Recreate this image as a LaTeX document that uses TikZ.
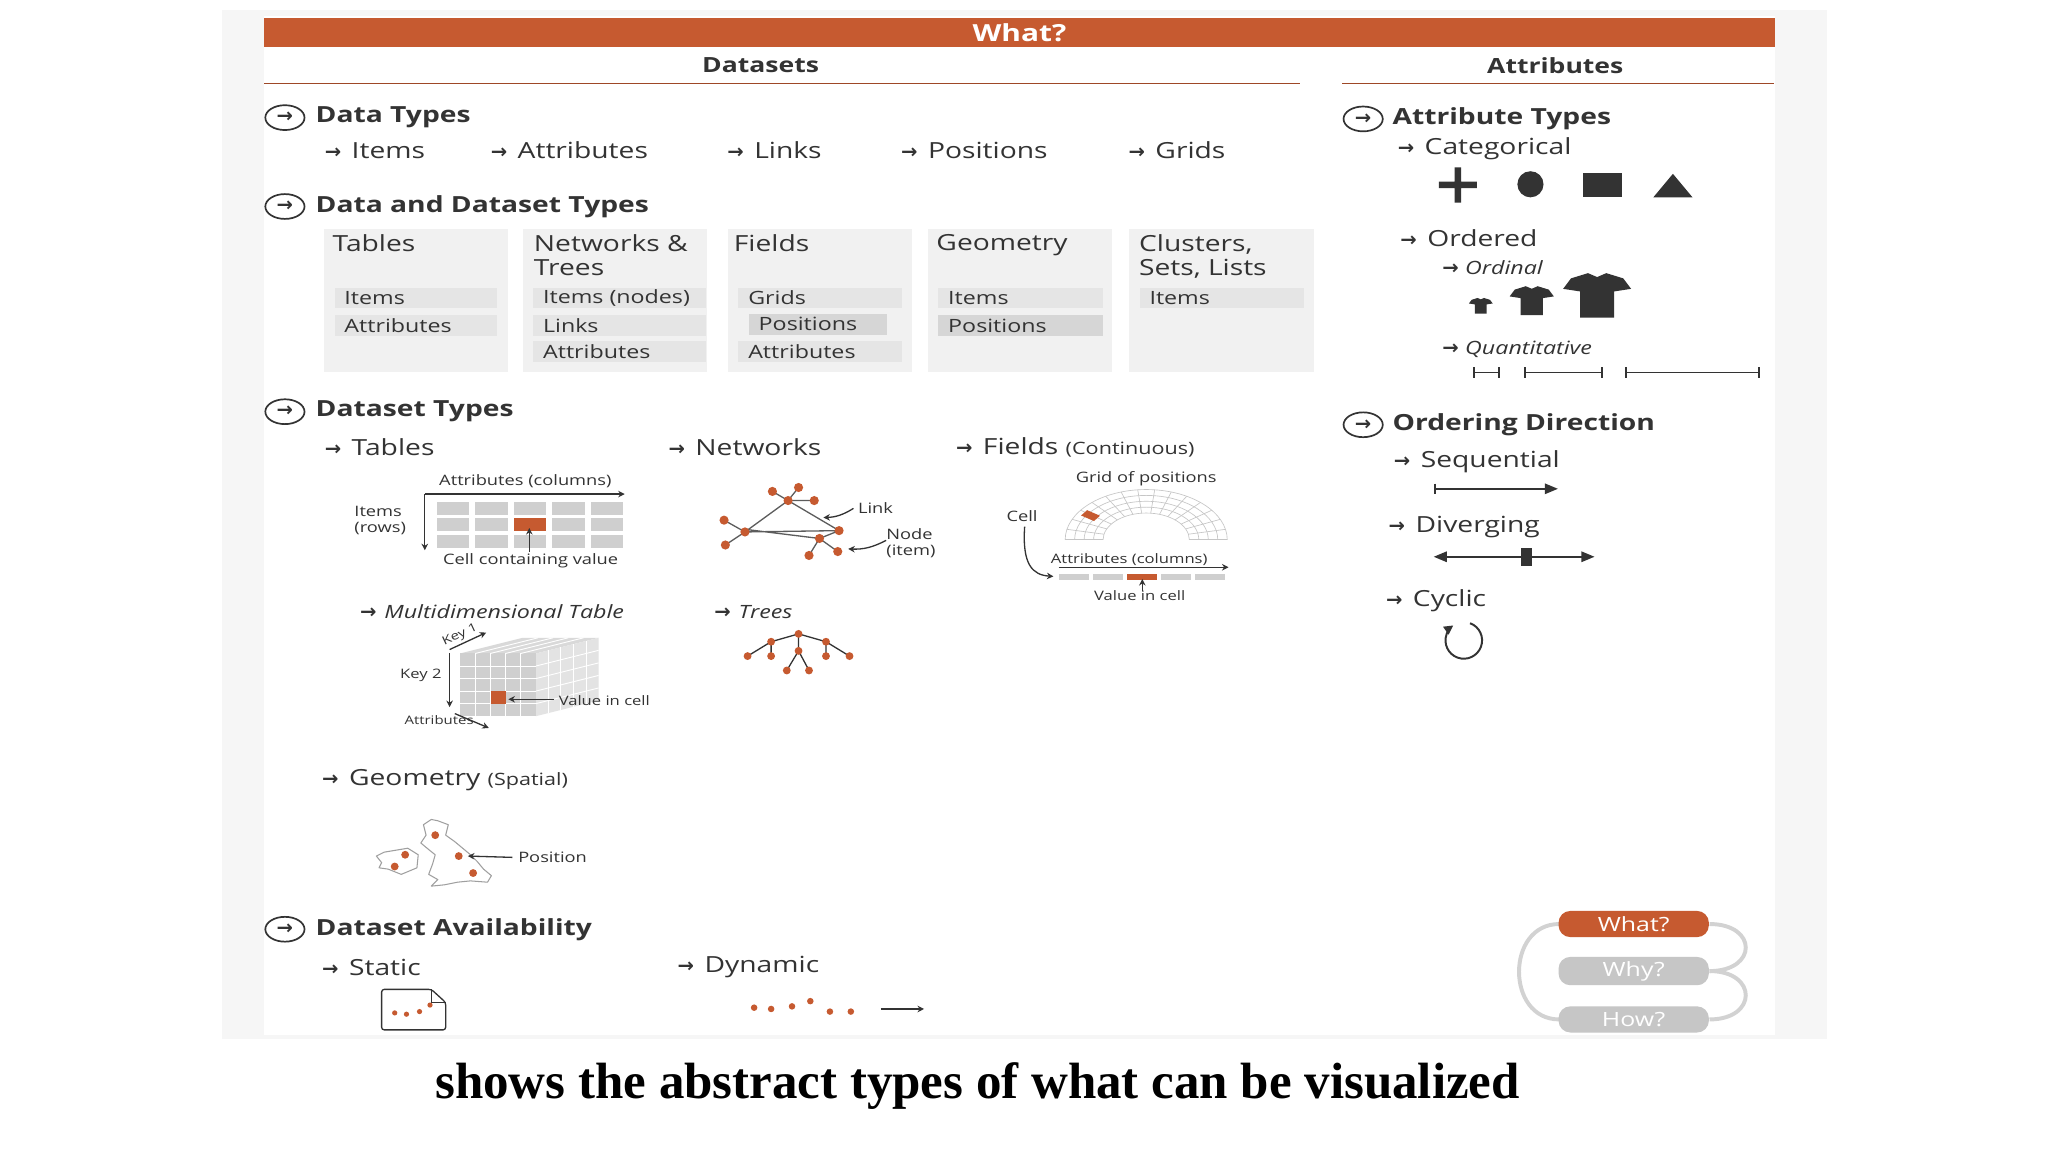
\documentclass[tikz,border=0pt]{standalone}
\usepackage{fontspec}
\setmainfont{Open Sans}[FakeStretch=1.27]
\newfontfamily\sym{DejaVu Sans}
\newfontfamily\capfont{Liberation Serif}
\usetikzlibrary{shapes.geometric,arrows.meta}
\definecolor{org}{HTML}{C65A30}
\definecolor{txt}{HTML}{333333}
\definecolor{boxbg}{HTML}{F1F1F1}
\definecolor{bar}{HTML}{E5E5E5}
\definecolor{bardk}{HTML}{D6D6D6}
\definecolor{cellg}{HTML}{CFCFCF}
\newcommand\fs[1]{\fontsize{#1}{#1}\selectfont}
\newcommand\ar{{\sym\bfseries\fontsize{15}{15}\selectfont →}}
\tikzset{
 h1/.style={anchor=west,text=txt,font=\fs{17}\bfseries},
 h2/.style={anchor=west,text=txt,font=\fs{17}},
 h3/.style={anchor=west,text=txt,font=\fs{14}\itshape},
 hicon/.style={ellipse,draw=txt,line width=1.3pt,minimum width=30pt,minimum height=19pt,inner sep=0pt,font=\fs{14},text=txt},
 btitle/.style={anchor=north west,text=txt,font=\fs{17},align=left},
 bitem/.style={anchor=west,text=txt,font=\fs{14}},
 lbl/.style={text=txt,font=\fs{11},align=center},
 tip/.style={-{Stealth[length=5pt,width=5pt]},txt,line width=1pt},
 dot/.style={circle,fill=org,inner sep=0pt,minimum size=7pt},
 pill/.style={rounded corners=9pt,minimum width=115pt,minimum height=20pt,font=\fs{15},text=white},
 shirt/.pic={\fill[txt,yscale=-1] (-1,0.8)--(-0.35,1)--(0,0.85)--(0.35,1)--(1,0.8)--(1.3,0.4)--(0.65,0.3)--(0.65,-0.7)--(-0.65,-0.7)--(-0.65,0.3)--(-1.3,0.4)--cycle;}
}
\begin{document}
\begin{tikzpicture}[x=1pt,y=-1pt]
\useasboundingbox (0,0) rectangle (1567,881);
\fill[white] (0,0) rectangle (1567,881);
\fill[gray!7] (170,8) rectangle (1398,795);
\fill[white] (202,12) rectangle (1358,792);
% title
\fill[org] (202,14) rectangle (1358,36);
\node[text=white,font=\fs{18}\bfseries] (what) at (780,25) {What?};
\node[text=txt,font=\fs{16}\bfseries] (ds) at (582,50) {Datasets};
\node[text=txt,font=\fs{16}\bfseries] (at) at (1190,50) {Attributes};
\draw[org!80!black,line width=1pt] (202,64)--(995,64) (1027,64)--(1357,64);
% Data types
\node[hicon] (i1) at (218,90) {\ar};
\node[h1] (dt) at (238,90) {Data Types};
\foreach \x/\t in {245/Items,372/Attributes,553/Links,686/Positions,860/Grids}
  \node[h2] at (\x,115) {\ar\hspace{8pt}\t};
% Data and dataset types
\node[hicon] (i2) at (218,158) {\ar};
\node[h1] (ddt) at (238,158) {Data and Dataset Types};
\foreach \x in {248,400,557,710,864} \fill[boxbg] (\x,175) rectangle ++(141,110);
\node[btitle] at (251,176) {Tables};
\node[btitle] at (405,176) {Networks \&\\[1pt]Trees};
\node[btitle] at (558,176) {Fields};
\node[btitle] at (713,176) {Geometry};
\node[btitle] at (868,176) {Clusters,\\[1pt]Sets, Lists};
\newcommand\bi[5]{\fill[#5] (#1,#2-8) rectangle (#1+#3,#2+8); \node[bitem] at (#1+4,#2) {#4};}
\bi{256}{228}{124}{Items}{bar}
\bi{256}{249}{124}{Attributes}{bar}
\bi{408}{228}{132}{Items (nodes)}{bar}
\bi{408}{249}{132}{Links}{bar}
\bi{408}{269}{132}{Attributes}{bar}
\bi{565}{228}{125}{Grids}{bar}
\bi{573}{248}{106}{Positions}{bardk}
\bi{565}{269}{125}{Attributes}{bar}
\bi{718}{228}{126}{Items}{bar}
\bi{718}{249}{126}{Positions}{bardk}
\bi{872}{228}{126}{Items}{bar}
% Dataset types
\node[hicon] (i3) at (218,315) {\ar};
\node[h1] (dst) at (238,315) {Dataset Types};
\node[h2] at (245,342) {\ar\hspace{8pt}Tables};
\node[h2] at (508,342) {\ar\hspace{8pt}Networks};
\node[h2] at (728,342) {\ar\hspace{8pt}Fields {\fs{13}(Continuous)}};
% table figure
\foreach \c in {0,...,4} \foreach \r in {0,...,2}
  \fill[cellg] (334+\c*29.5,384+\r*12.5) rectangle ++(25,10);
\fill[org] (393,396.5) rectangle ++(25,10);
\draw[tip] (325,378)--(478,378);
\draw[tip] (325,378)--(325,421);
\node[lbl] at (402,368) {Attributes (columns)};
\node[lbl,anchor=west,inner sep=0pt] (ir1) at (271,391) {Items};
\node[lbl,anchor=west,inner sep=0pt] (ir2) at (271,404) {(rows)};
\draw[tip] (405,422)--(405,404);
\node[lbl] at (406,429) {Cell containing value};
% network
\foreach \n/\p in {t/{603,383},a/{591,376},b/{611,373},c/{623,383},l/{570,407},d/{554,398},e/{555,417},r/{642,406},m/{627,412},f/{619,425},g/{641,422}}
  \coordinate (n\n) at (\p);
\draw[txt!80,line width=1pt] (nt)--(na) (nt)--(nb) (nt)--(nc) (nt)--(nl) (nt)--(nr) (nl)--(nd) (nl)--(ne) (nl)--(nr) ([yshift=2pt]nl)--(nm) (nm)--(nr) (nm)--(nf) (nm)--(ng);
\foreach \n in {t,a,b,c,l,d,e,r,m,f,g} \node[dot] at (n\n) {};
\node[lbl,anchor=west] (lk) at (653,389) {Link};
\draw[tip] (lk.west) to[bend left=15] (630,396);
\node[lbl,anchor=west,inner sep=0pt] (nd) at (678,409) {Node};
\node[lbl,anchor=west,inner sep=0pt] (nd2) at (678,422) {(item)};
\draw[tip] (nd.south west) to[bend left=15] (649,420);
% fields
\node[lbl] at (877,366) {Grid of positions};
\begin{scope}[gray!45,line width=0.5pt,shift={(877,413)},yscale=0.62]
\foreach \r in {33,40.25,47.5,54.75,62} \draw (\r,0) arc[start angle=0,end angle=-180,radius=\r];
\foreach \a in {0,12,...,180} \draw (-\a:33) -- (-\a:62);
\fill[org,rotate=-35] (-58,-4) rectangle (-46,4);
\end{scope}
\node[lbl] (cl) at (782,395) {Cell};
\draw[tip] (784,403) .. controls (782,432) and (790,440) .. (806,441);
\node[lbl,font=\fs{10}] at (864,428) {Attributes (columns)};
\draw[tip] (810,434)--(940,434);
\foreach \c in {0,...,4} \fill[cellg] (810+\c*26,439) rectangle ++(23,5);
\fill[org] (862,439) rectangle ++(23,5);
\draw[tip] (874,452)--(874,443);
\node[lbl,font=\fs{10}] at (872,456) {Value in cell};
% multidim
\node[h3] at (272,468) {{\upshape\ar}\hspace{6pt}Multidimensional Table};
\fill[gray!30] (352,500)--(400,488)--(458,488)--(410,500)--cycle;
\fill[gray!22] (410,500)--(458,488)--(458,536)--(410,548)--cycle;
\fill[gray!38] (352,500) rectangle (410,548);
\begin{scope}[white,line width=0.7pt]
\foreach \i in {1,...,4} {\draw (352+\i*11.6,500)--(352+\i*11.6,548); \draw (352,500+\i*9.6)--(410,500+\i*9.6);
 \draw (410+\i*9.6,500-\i*2.4)--(410+\i*9.6,548-\i*2.4); \draw (410,500+\i*9.6)--(458,488+\i*9.6);
 \draw (352+\i*11.6,500)--(400+\i*11.6,488);}
\end{scope}
\fill[org] (376,529) rectangle (387,539);
\draw[tip] (344,497)--(372,484);
\node[lbl,font=\fs{9},rotate=25,inner sep=0pt] at (352,486) {Key 1};
\draw[tip] (344,500)--(344,541);
\node[lbl,font=\fs{10}] at (322,517) {Key 2};
\draw[tip] (348,546)--(374,557);
\node[lbl,font=\fs{9}] at (336,551) {Attributes};
\draw[tip] (424,535)--(389,535);
\node[lbl,font=\fs{10},anchor=west] at (424,536) {Value in cell};
% trees
\node[h3] at (543,468) {{\upshape\ar}\hspace{6pt}Trees};
\foreach \n/\p in {r/{611,485},a/{590,491},b/{611,498},c/{632,491},d/{572,502},e/{590,502},f/{602,513},g/{619,513},h/{632,502},i/{650,502}}
  \coordinate (t\n) at (\p);
\draw[txt,line width=1pt] (tr)--(ta) (tr)--(tb) (tr)--(tc) (ta)--(td) (ta)--(te) (tb)--(tf) (tb)--(tg) (tc)--(th) (tc)--(ti);
\foreach \n in {r,a,b,c,d,e,f,g,h,i} \node[dot,minimum size=6pt] at (t\n) {};
% geometry
\node[h2] at (243,597) {\ar\hspace{8pt}Geometry {\fs{13}(Spatial)}};
\draw[gray!75,fill=white,line width=0.8pt,line join=round] (324,631)--(330,627)--(335,628)--(343,631)--(341,639)--(348,644)--(354,649)--(360,654)--(365,659)--(370,665)--(376,670)--(373,675)--(360,674)--(350,675)--(340,677)--(330,678)--(335,673)--(328,669)--(331,661)--(333,654)--(328,650)--(322,645)--(326,639)--cycle;
\draw[gray!75,fill=white,line width=0.8pt,line join=round] (288,655)--(294,652)--(300,651)--(312,649)--(320,654)--(319,664)--(307,669)--(297,665)--(290,664)--(292,660)--cycle;
\foreach \p in {{333,639},{310,654},{302,663},{351,655},{362,668}} \node[dot,minimum size=6pt] at (\p) {};
\draw[tip] (392,656)--(358,655);
\node[lbl,anchor=west] at (393,656) {Position};
% availability
\node[hicon] (i4) at (218,711) {\ar};
\node[h1] (dav) at (238,711) {Dataset Availability};
\node[h2] at (243,740) {\ar\hspace{8pt}Static};
\node[h2] at (515,740) {\ar\hspace{8pt}Dynamic};
\draw[txt,line width=1pt,rounded corners=2pt] (292,757)--(330,757)--(341,767)--(341,788)--(292,788)--cycle;
\draw[txt,line width=0.8pt] (330,757)--(330,767)--(341,767);
\foreach \p in {{302,775},{311,776},{321,774},{329,769}} \node[dot,minimum size=4pt] at (\p) {};
\foreach \p in {{577,771},{590,772},{606,770},{620,766},{635,774},{651,774}} \node[dot,minimum size=5pt] at (\p) {};
\draw[tip,line width=0.8pt] (674,772)--(707,772);
% attribute types
\node[hicon] (i5) at (1043,91) {\ar};
\node[h1] at (1062,91) {Attribute Types};
\node[h2] at (1066,114) {\ar\hspace{8pt}Categorical};
\fill[txt] (1101,139) rectangle (1130,144) (1113,128) rectangle (1118,155);
\fill[txt] (1171,141) circle (10);
\fill[txt] (1211,132) rectangle (1241,151);
\fill[txt] (1265,151)--(1280,133)--(1295,151)--cycle;
\node[h2] at (1068,182) {\ar\hspace{8pt}Ordered};
\node[h3] at (1100,205) {{\upshape\ar}\hspace{5pt}Ordinal};
\pic[scale=7] at (1133,235) {shirt};
\pic[scale=13] at (1172,232) {shirt};
\pic[scale=20] at (1222,229) {shirt};
\node[h3] at (1100,267) {{\upshape\ar}\hspace{5pt}Quantitative};
\foreach \a/\b in {1128/1147,1167/1226,1244/1346} \draw[txt,line width=1.5pt] (\a,285)--(\b,285) (\a,281)--(\a,289) (\b,281)--(\b,289);
% ordering direction
\node[hicon] (i6) at (1043,325) {\ar};
\node[h1] at (1062,325) {Ordering Direction};
\node[h2] at (1063,353) {\ar\hspace{8pt}Sequential};
\draw[txt,line width=1.2pt,-{Triangle[length=10pt,width=8pt]}] (1098,374)--(1192,374);
\draw[txt,line width=1.5pt] (1098,370)--(1098,378);
\node[h2] at (1059,403) {\ar\hspace{8pt}Diverging};
\draw[txt,line width=1.2pt,{Triangle[length=10pt,width=8pt]}-{Triangle[length=10pt,width=8pt]}] (1097,426)--(1220,426);
\fill[txt] (1164,419) rectangle (1172,433);
\node[h2] at (1057,460) {\ar\hspace{8pt}Cyclic};
\draw[txt,line width=1.5pt,-{Triangle[length=7pt,width=7pt]}] (1120,490) ++(-70:14) arc[start angle=-70,end angle=235,radius=14];
% what why how
\draw[gray!35,line width=3pt] (1193,707) .. controls (1152,707) and (1152,780) .. (1193,780);
\draw[gray!35,line width=3pt] (1308,707) .. controls (1345,707) and (1345,743) .. (1308,743);
\draw[gray!35,line width=3pt] (1308,743) .. controls (1345,743) and (1345,780) .. (1308,780);
\node[pill,fill=org] (pw) at (1250,707) {What?};
\node[pill,fill=gray!45] (py) at (1250,743) {Why?};
\node[pill,fill=gray!45] (ph) at (1250,780) {How?};
% caption
\node[font=\capfont\bfseries\fs{39}] (cap) at (748,831) {shows the abstract types of what can be visualized};
\end{tikzpicture}
\end{document}
